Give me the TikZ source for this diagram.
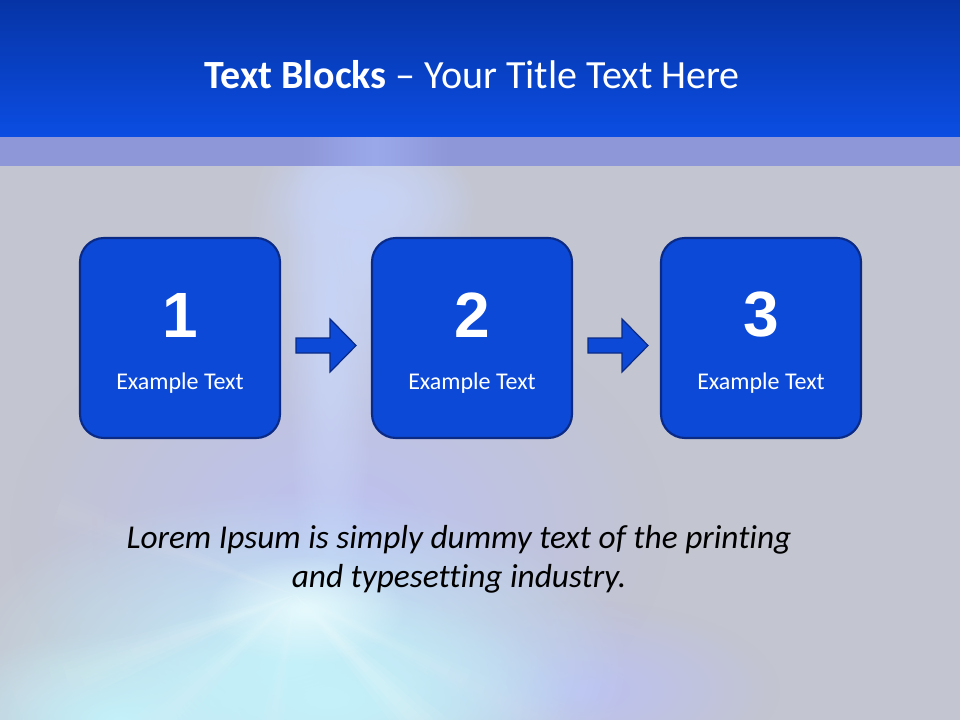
\documentclass[tikz,border=0pt]{standalone}
\usepackage{fontspec}
\setmainfont{Carlito}[Ligatures=CommonOff]
\newfontfamily\numfont{Liberation Sans}
\usetikzlibrary{calc,fadings}
\definecolor{bgc}{HTML}{C3C5D0}
\definecolor{hdtop}{HTML}{0634A6}
\definecolor{hdbot}{HTML}{0B4DE2}
\definecolor{bandc}{HTML}{8E97D8}
\definecolor{bandhi}{HTML}{9AA8EA}
\definecolor{boxfill}{HTML}{0B49D6}
\definecolor{boxedge}{HTML}{0A2A86}
\definecolor{cyanglow}{HTML}{C4F1FA}
\definecolor{whiteglow}{HTML}{E6FAFD}
\definecolor{streak}{HTML}{C8D4F6}
\definecolor{lav}{HTML}{BCC1F2}
\tikzfading[name=fadeout, inner color=transparent!0, outer color=transparent!100]
\tikzset{
  stepbox/.style={draw=boxedge, line width=1.6pt, fill=boxfill, rounded corners=18pt,
    minimum width=150pt, minimum height=150pt, inner sep=0pt},
  numtext/.style={text=white, font=\numfont\bfseries\fontsize{48}{50}\selectfont},
  labtext/.style={text=white, font=\fontsize{18}{21}\selectfont},
  blockarrow/.style={draw=boxedge, line width=0.9pt, fill=boxfill, line join=miter},
  soft/.style={fill=#1, path fading=fadeout}
}
\begin{document}
\begin{tikzpicture}[x=0.75pt,y=-0.75pt]
\useasboundingbox (0,0) rectangle (960,720);
% background
\fill[bgc] (0,0) rectangle (960,720);
% lavender tints
\fill[soft=lav] (340,530) ellipse (330 and 240);
\fill[soft=lav] (580,690) ellipse (200 and 90);
% vertical streak from the top band down to the focus
\fill[soft=streak] (360,250) ellipse (120 and 190);
\fill[soft=streak] (330,330) ellipse (45 and 300);
\fill[soft=streak] (370,200) ellipse (110 and 60);
% cyan glow
\fill[soft=cyanglow] (290,665) ellipse (340 and 175);
\fill[soft=cyanglow] (330,700) ellipse (240 and 110);
\fill[soft=cyanglow] (120,720) ellipse (200 and 90);
% soft rays from the focus
\coordinate (F) at (295,595);
\foreach \ang/\hw/\op in {160/6/0.10, 46/7/0.13, 200/4/0.06, 137/6/0.08, 27/4/0.07, 100/5/0.06}{
  \foreach \k in {1,0.6,0.3}{
    \begin{scope}
      \clip (F) -- ($(F)+(\ang-\hw*\k:520)$) -- ($(F)+(\ang+\hw*\k:520)$) -- cycle;
      \fill[soft=white, opacity=\op] (F) circle (360);
    \end{scope}
  }
}
\fill[soft=whiteglow] (305,610) ellipse (100 and 55);
% header
\fill[bandc] (0,135) rectangle (960,166);
\shade[left color=bandc, right color=bandc, middle color=bandhi] (300,137) rectangle (450,166);
\shade[top color=hdtop, bottom color=hdbot] (0,0) rectangle (960,136.5);
\node[text=white, font=\fontsize{30}{34}\selectfont] (title) at (472,75)
  {\textbf{Text Blocks} – Your Title Text Here};
% boxes
\node[stepbox] (b1) at (180,338) {};
\node[stepbox] (b2) at (472,338) {};
\node[stepbox] (b3) at (761,338) {};
\foreach \b/\n in {b1/1,b2/2,b3/3}{
  \node[numtext] (\b num) at ($(\b.center)+(0,-23)$) {\n};
  \node[labtext] (\b lab) at ($(\b.center)+(0,45)$) {Example Text};
}
% arrows
\foreach \a in {b1,b2}{
  \draw[blockarrow] ($(\a.east)+(15,0)$) -- ($(\a.east)+(49,0)$) -- ($(\a.east)+(49,-19)$)
    -- ($(\a.east)+(75,7.5)$) -- ($(\a.east)+(49,34)$) -- ($(\a.east)+(49,15)$)
    -- ($(\a.east)+(15,15)$) -- cycle;
}
% caption
\node[font=\itshape\fontsize{25}{29.5}\selectfont, align=center, text=black] (cap) at (459,559)
  {Lorem Ipsum is simply dummy text of the printing\\and typesetting industry.};
\end{tikzpicture}
\end{document}
